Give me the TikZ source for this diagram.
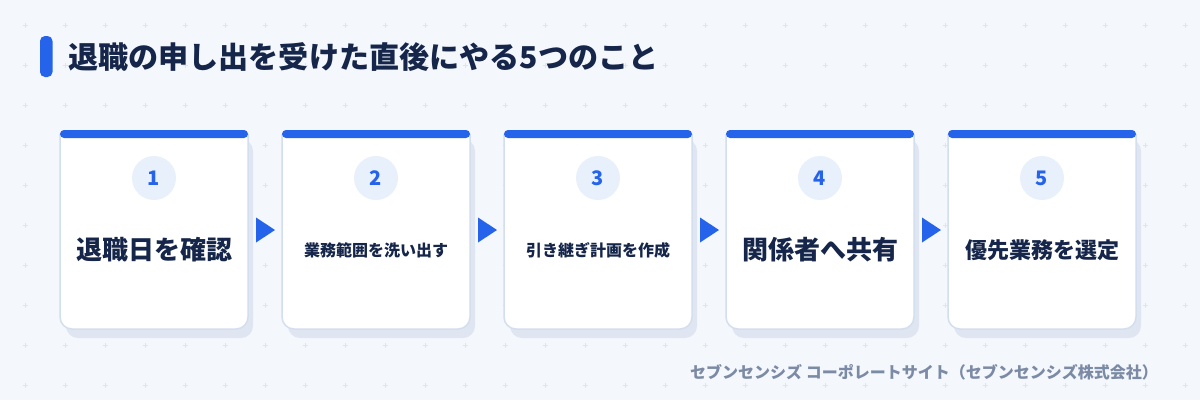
\documentclass[tikz,border=0pt]{standalone}
\usepackage{fontspec}
\setmainfont{Noto Sans CJK JP}
\usetikzlibrary{calc}

\definecolor{pagebg}{HTML}{F4F7FC}
\definecolor{gridmark}{HTML}{DFE5EF}
\definecolor{navy}{HTML}{15264A}
\definecolor{accent}{HTML}{2563EB}
\definecolor{disc}{HTML}{E8F0FC}
\definecolor{cardline}{HTML}{D3DEEE}
\definecolor{cardshade}{HTML}{DFE6F1}
\definecolor{footgray}{HTML}{7B8AA5}

\tikzset{
  cardshadow/.style={fill=cardshade, rounded corners=12pt},
  cardbody/.style={fill=white, draw=cardline, line width=1.5pt, rounded corners=12pt},
  cardbar/.style={fill=accent, rounded corners=4pt},
  numdisc/.style={circle, fill=disc, minimum size=44pt, inner sep=0pt,
    text=accent, font=\bfseries\fontsize{20}{20}\selectfont},
  cardtext/.style={text=navy, inner sep=0pt},
  flowtri/.style={fill=accent},
}

\begin{document}
\begin{tikzpicture}[x=1pt, y=-1pt]
  \useasboundingbox (0,0) rectangle (1200,400);
  \fill[pagebg] (0,0) rectangle (1200,400);

  % faint plus grid
  \foreach \gx in {0,...,29}
    \foreach \gy in {0,...,9}
      \draw[gridmark, line width=0.7pt] ($(25+40*\gx,25+40*\gy)+(-2.5,0)$) -- ++(5,0)
        ($(25+40*\gx,25+40*\gy)+(0,-2.5)$) -- ++(0,5);

  % title
  \fill[accent, rounded corners=5pt] (40,36) rectangle (52.5,77);
  \node[text=navy, anchor=west, inner sep=0pt, font=\bfseries\fontsize{30.1}{31}\selectfont]
    (title) at (68,57) {退職の申し出を受けた直後にやる5つのこと};

  %------ 1
  \fill[cardshadow] (66,139) rectangle (253,338);
  \path[cardbody] (60,134) -- (60,329) -- (248,329) -- (248,134);
  \fill[cardbar] (60,130) rectangle (248,138);
  \node[numdisc] (num1) at (154,178) {1};
  \node[cardtext, font=\bfseries\fontsize{26}{26}\selectfont] (step1) at (154,250) {退職日を確認};
  \coordinate (out1) at (248,230);

  %------ 2
  \fill[cardshadow] (288,139) rectangle (475,338);
  \path[cardbody] (282,134) -- (282,329) -- (470,329) -- (470,134);
  \fill[cardbar] (282,130) rectangle (470,138);
  \node[numdisc] (num2) at (376,178) {2};
  \node[cardtext, font=\bfseries\fontsize{16}{16}\selectfont] (step2) at (376,250) {業務範囲を洗い出す};
  \coordinate (in2) at (282,230);
  \coordinate (out2) at (470,230);

  %------ 3
  \fill[cardshadow] (510,139) rectangle (697,338);
  \path[cardbody] (504,134) -- (504,329) -- (692,329) -- (692,134);
  \fill[cardbar] (504,130) rectangle (692,138);
  \node[numdisc] (num3) at (598,178) {3};
  \node[cardtext, font=\bfseries\fontsize{16}{16}\selectfont] (step3) at (598,250) {引き継ぎ計画を作成};
  \coordinate (in3) at (504,230);
  \coordinate (out3) at (692,230);

  %------ 4
  \fill[cardshadow] (732,139) rectangle (919,338);
  \path[cardbody] (726,134) -- (726,329) -- (914,329) -- (914,134);
  \fill[cardbar] (726,130) rectangle (914,138);
  \node[numdisc] (num4) at (820,178) {4};
  \node[cardtext, font=\bfseries\fontsize{26}{26}\selectfont] (step4) at (820,250) {関係者へ共有};
  \coordinate (in4) at (726,230);
  \coordinate (out4) at (914,230);

  %------ 5
  \fill[cardshadow] (954,139) rectangle (1141,338);
  \path[cardbody] (948,134) -- (948,329) -- (1136,329) -- (1136,134);
  \fill[cardbar] (948,130) rectangle (1136,138);
  \node[numdisc] (num5) at (1042,178) {5};
  \node[cardtext, font=\bfseries\fontsize{22}{22}\selectfont] (step5) at (1042,250) {優先業務を選定};
  \coordinate (in5) at (948,230);

  % arrows between the cards
  \fill[flowtri] ($(out1)!0.5!(in2)+(-9,-12.5)$) -- ++(19,12.5) -- ++(-19,12.5) -- cycle;
  \fill[flowtri] ($(out2)!0.5!(in3)+(-9,-12.5)$) -- ++(19,12.5) -- ++(-19,12.5) -- cycle;
  \fill[flowtri] ($(out3)!0.5!(in4)+(-9,-12.5)$) -- ++(19,12.5) -- ++(-19,12.5) -- cycle;
  \fill[flowtri] ($(out4)!0.5!(in5)+(-9,-12.5)$) -- ++(19,12.5) -- ++(-19,12.5) -- cycle;

  % source
  \node[text=footgray, anchor=east, inner sep=0pt, font=\bfseries\fontsize{16}{16}\selectfont]
    (source) at (1158,372) {セブンセンシズ コーポレートサイト（セブンセンシズ株式会社）};
\end{tikzpicture}
\end{document}
